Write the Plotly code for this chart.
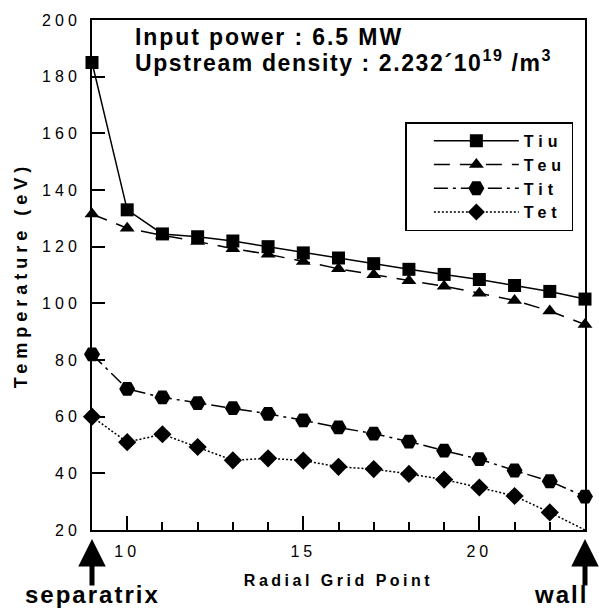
import plotly.graph_objects as go

grid = list(range(9, 24))
Tiu = [185, 133, 124.5, 123.5, 122, 120, 117.8, 116, 114, 112, 110.2, 108.4, 106.3, 104.2, 101.5]
Teu = [131.5, 126.5, 124, 121.8, 119.3, 117.3, 114.8, 112.2, 110.1, 108, 106, 103.6, 101, 97.3, 92.5]
Tit = [82, 69.8, 66.8, 64.8, 63, 61, 58.7, 56.2, 54, 51.2, 48, 45, 41, 37.2, 31.8]
Tet = [60, 51, 53.8, 49.3, 44.6, 45.3, 44.5, 42.3, 41.5, 39.8, 37.8, 35, 32, 26.2, 20]
names = ["Tiu", "Teu", "Tit", "Tet"]
yticks = [20, 40, 60, 80, 100, 120, 140, 160, 180, 200]
xticks = [10, 15, 20]

FONT = "Liberation Sans, Arial, sans-serif"


def spaced(t, ls):
    return f'<span style="letter-spacing:{ls}px">{t}</span>'


series = [Tiu, Teu, Tit, Tet]
styles = [
    dict(symbol="square", size=13, dash="solid"),
    dict(symbol="triangle-up", size=13, dash="16px,10px"),
    dict(symbol="hexagon2", size=16, dash="14px,5px,3px,5px"),
    dict(symbol="diamond", size=14, dash="2px,2px"),
]

fig = go.Figure()
for nm, vals, st in zip(names, series, styles):
    sizes = [st["size"]] * len(vals)
    if nm == "Tet":
        sizes[-1] = 0
    fig.add_trace(go.Scatter(
        x=grid, y=vals, name=spaced(nm, 5), mode="lines+markers",
        line=dict(color="black", width=1.5, dash=st["dash"]),
        marker=dict(symbol=st["symbol"], size=sizes, color="black", opacity=1, line=dict(width=0)),
        cliponaxis=False,
    ))

ph = 514.0
def py(p):
    return (530 - p) / ph

fig.update_layout(
    width=599, height=609,
    margin=dict(l=92, r=13, t=16, b=79),
    paper_bgcolor="white", plot_bgcolor="white",
    font=dict(family=FONT, color="black"),
    showlegend=True,
    legend=dict(
        x=(406 - 92) / 494, xanchor="left", y=py(174), yanchor="middle",
        bordercolor="black", borderwidth=1.5, bgcolor="white",
        font=dict(size=16, family=FONT, weight="bold", color="black"),
        tracegroupgap=0, itemwidth=85, indentation=22,
    ),
)

fig.update_xaxes(
    range=[9, 23], tickvals=xticks, ticktext=[spaced(str(v), 4) for v in xticks],
    ticks="inside", ticklen=14, tickwidth=2, tickcolor="black",
    minor=dict(dtick=1, tick0=9, ticks="inside", ticklen=8, tickwidth=2, tickcolor="black"),
    showline=True, linewidth=2, linecolor="black", mirror=True,
    showgrid=False, zeroline=False,
    tickfont=dict(size=16, family=FONT, color="black"),
    ticklabelstandoff=6,
    title=dict(text=spaced("Radial Grid Point", 3.5), font=dict(size=16, family=FONT, weight="bold", color="black"), standoff=16),
)
fig.update_yaxes(
    range=[20, 200], tickvals=yticks, ticktext=[spaced(str(v), 4) for v in yticks],
    ticks="inside", ticklen=13, tickwidth=2, tickcolor="black",
    showline=True, linewidth=2, linecolor="black", mirror=True,
    showgrid=False, zeroline=False,
    tickfont=dict(size=16, family=FONT, color="black"),
    ticklabelstandoff=6,
    title=dict(text=spaced("Temperature (eV)", 5), font=dict(size=18, family=FONT, weight="bold", color="black"), standoff=10),
)

anns = [
    dict(text=spaced("Input power : 6.5 MW", 1.9), x=(133 - 92) / 494, y=py(33), xref="paper", yref="paper",
         xanchor="left", yanchor="middle", showarrow=False, font=dict(size=23, family=FONT, weight="bold")),
    dict(text=spaced("Upstream density : 2.232\u00b4", 1.6) + spaced("10<sup>19</sup> /m<sup>3</sup>", 1.6),
         x=(133 - 92) / 494, y=py(57),
         xref="paper", yref="paper", xanchor="left", yanchor="middle", showarrow=False,
         font=dict(size=23, family=FONT, weight="bold")),
    dict(text=spaced("separatrix", 2), x=(93 - 92) / 494, y=py(595), xref="paper", yref="paper",
         xanchor="center", yanchor="middle", showarrow=False, font=dict(size=24, family=FONT, weight="bold")),
    dict(text=spaced("wall", 2), x=(562 - 92) / 494, y=py(595), xref="paper", yref="paper",
         xanchor="center", yanchor="middle", showarrow=False, font=dict(size=24, family=FONT, weight="bold")),
]
for gx in (grid[0], grid[-1]):
    anns.append(dict(text="", x=gx, y=py(539), xref="x", yref="paper", showarrow=True,
                     ax=0, ay=48, arrowhead=2, arrowwidth=5, arrowsize=1.1, arrowcolor="black"))
fig.update_layout(annotations=anns)

fig.write_html("out.html")
